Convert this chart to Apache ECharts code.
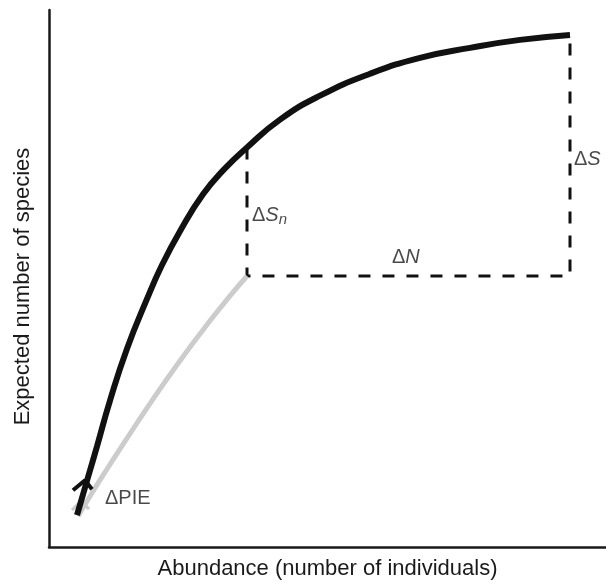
<!DOCTYPE html>
<html>
<head>
<meta charset="utf-8">
<script src="https://cdn.jsdelivr.net/npm/echarts@6/dist/echarts.min.js"></script>
<style>
  html, body { margin: 0; padding: 0; background: #fff; }
  #chart { width: 606px; height: 585px; }
</style>
</head>
<body>
<div id="chart"></div>
<script>
// rarefaction curves, values in arbitrary axis units
var totalCurve = [[28,32],[39,70],[48,101],[61,147],[78,199],[98,249],[113,283],[131,317],[154,354],[176,380],[198,401],[231,429],[271,453],[321,475],[371,491],[421,501],[471,509],[521,514]]
var subsetCurve = [[29,31],[41,51],[56,75],[76,106],[101,144],[131,187],[161,227],[181,252],[198,272]]
var deltaLines = [[198,401],[198,272],[521,272],[521,514]]
var blackTip = [[24,57],[36,67],[43,58]]
var grayTip = [[23,37],[32,46],[40,38]]
var labelPoints = [
  {name:'PIE', value:[56,49]},
  {name:'Sn', value:[203,333]},
  {name:'N', value:[343,291]},
  {name:'S', value:[525,389]}
]

var txt = '#1a1a1a'
var font = 'Liberation Sans'
var labelText = {
  PIE: '{a|ΔPIE}',
  Sn: '{a|Δ}{i|S}{sub|n}',
  N: '{a|Δ}{i|N}',
  S: '{a|Δ}{i|S}'
}

var chart = echarts.init(document.getElementById('chart'))
var option = {
  animation: false,
  backgroundColor: '#fff',
  grid: { left: 49, right: 0, top: 10, bottom: 36 },
  xAxis: {
    type: 'value', min: 0, max: 557,
    name: 'Abundance (number of individuals)',
    nameLocation: 'middle', nameGap: 11,
    nameTextStyle: { fontFamily: font, fontSize: 22, color: txt, verticalAlign: 'top' },
    axisLine: { show: true, lineStyle: { color: '#1a1a1a', width: 2.5 } },
    axisTick: { show: false }, axisLabel: { show: false }, splitLine: { show: false }
  },
  yAxis: {
    type: 'value', min: 0, max: 539,
    name: 'Expected number of species',
    nameLocation: 'middle', nameGap: 15,
    nameTextStyle: { fontFamily: font, fontSize: 22, color: txt, verticalAlign: 'bottom', padding: [0, 16, 0, 0] },
    axisLine: { show: true, lineStyle: { color: '#1a1a1a', width: 2.5 } },
    axisTick: { show: false }, axisLabel: { show: false }, splitLine: { show: false }
  },
  series: [
    {
      type: 'line', data: deltaLines, symbol: 'none',
      lineStyle: { color: '#111', width: 3, type: [12, 12] }
    },
    {
      type: 'line', data: subsetCurve, symbol: 'none', smooth: true,
      lineStyle: { color: '#cccccc', width: 5 }
    },
    {
      type: 'line', data: grayTip, symbol: 'none',
      lineStyle: { color: '#cccccc', width: 3 }
    },
    {
      type: 'line', data: totalCurve, symbol: 'none', smooth: true,
      lineStyle: { color: '#111', width: 6 }
    },
    {
      type: 'line', data: blackTip, symbol: 'none',
      lineStyle: { color: '#111', width: 4 }
    },
    {
      type: 'scatter', data: labelPoints, symbolSize: 0,
      label: {
        show: true, position: 'right', distance: 0,
        formatter: function (p) { return labelText[p.name] },
        rich: {
          a: { fontFamily: font, fontSize: 20, color: txt },
          i: { fontFamily: font, fontSize: 20, color: txt, fontStyle: 'italic' },
          sub: { fontFamily: font, fontSize: 15, color: txt, fontStyle: 'italic', verticalAlign: 'bottom', padding: [10, 0, 0, 0] }
        }
      }
    }
  ]
}
chart.setOption(option)
</script>
</body>
</html>
